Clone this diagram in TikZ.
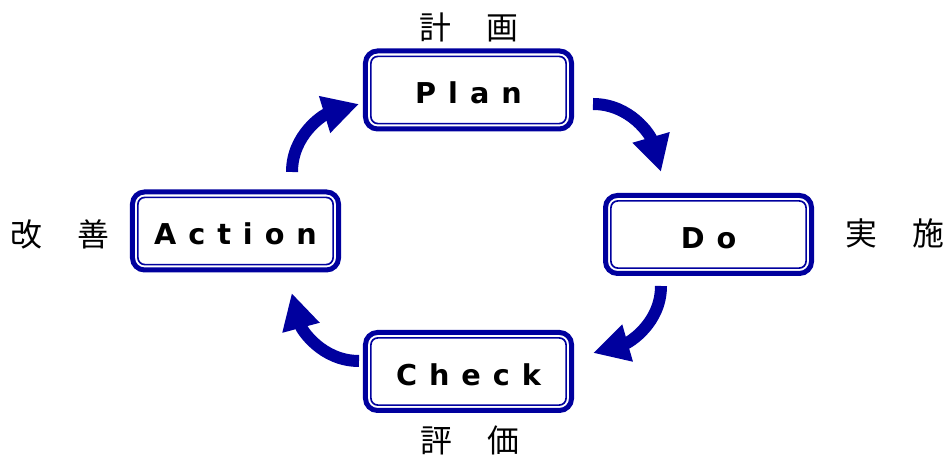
\documentclass[tikz,border=0pt]{standalone}
\usepackage{fontspec}
\usepackage{tikz}
\usetikzlibrary{arrows.meta}
\usetikzlibrary{calc}

\newfontfamily\boxfont{DejaVu Sans}
\newfontfamily\jpfont{Noto Sans CJK JP}
\definecolor{pdcablue}{RGB}{0,0,158}
\newcommand{\lsp}{\hspace{10.2pt}}

\tikzset{
  pdcabox/.style={rectangle, draw=pdcablue, line width=0.15cm, rounded corners=0.36cm,
    minimum width=6.18cm, minimum height=2.34cm, inner sep=0pt, outer sep=0pt,
    text height=23.5pt, text depth=0pt,
    font=\boxfont\bfseries\fontsize{24.5}{28}\selectfont},
  pdcainner/.style={draw=pdcablue, line width=0.05cm, rounded corners=0.21cm},
  pdcalabel/.style={font=\jpfont\fontsize{27.2}{30}\selectfont, inner sep=0pt},
  pdcaarrow/.style={draw=pdcablue, line width=0.36cm,
    -{Triangle[width=1.08cm,length=1.08cm]}}
}

\begin{document}
\begin{tikzpicture}[x=0.03cm, y=0.03cm]
        \useasboundingbox (0,0) rectangle (944,455);

        \node[pdcabox] (plan) at (468.5,365) {P\lsp l\lsp a\lsp n};
        \node[pdcabox] (do) at (708.5,220.5) {D\lsp o};
        \node[pdcabox] (check) at (468.5,83.5) {C\lsp h\lsp e\lsp c\lsp k};
        \node[pdcabox] (action) at (235.5,224) {A\lsp c\lsp t\lsp i\lsp o\lsp n};

        % inner thin frames
        \foreach \n in {plan,do,check,action}
          \draw[pdcainner] ($(\n.south west)+(5.4,5.4)$) rectangle ($(\n.north east)-(5.4,5.4)$);

        \node[pdcalabel] (plantext) at (469,428) {計\hspace{1.1em}画};
        \node[pdcalabel] (dotext) at (894.5,221.5) {実\hspace{1.1em}施};
        \node[pdcalabel] (checktext) at (470,15) {評\hspace{1.1em}価};
        \node[pdcalabel] (actiontext) at (59.5,221) {改\hspace{1.1em}善};

        \draw[pdcaarrow] ([shift={(21.5,-14)}]plan.east) to[out=0,in=106] ([shift={(-47.5,23.5)}]do.north);
        \draw[pdcaarrow] ([shift={(-47.5,-12.5)}]do.south) to[out=-90,in=16] ([shift={(21.5,18.5)}]check.east);
        \draw[pdcaarrow] ([shift={(-6.5,10.5)}]check.west) to[out=180,in=-75] ([shift={(56.2,-23)}]action.south);
        \draw[pdcaarrow] ([shift={(56.5,20)}]action.north) to[out=90,in=197] ([shift={(-6.5,-14)}]plan.west);

        \end{tikzpicture}
\end{document}
